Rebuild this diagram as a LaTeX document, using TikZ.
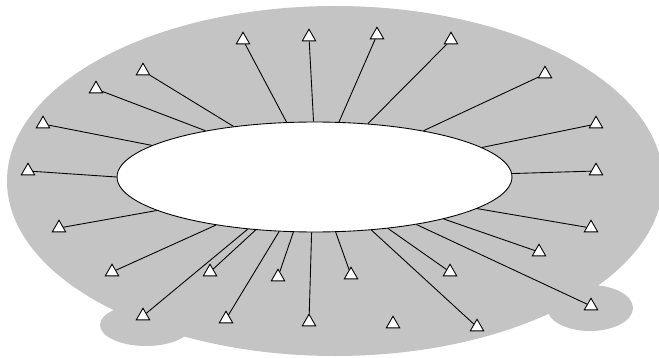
\documentclass[tikz,border=0pt]{standalone}
\usepackage{xcolor}
\usepackage{tikz}
\usetikzlibrary{shapes.geometric}
\definecolor{fieldgray}{RGB}{196, 196, 196}

\begin{document}
\begin{tikzpicture}[x=0.02cm, y=-0.02cm,
    sensor/.style={regular polygon, regular polygon sides=3, draw, fill=white,
        line width=0.5pt, minimum size=0.31cm, inner sep=0pt},
    link/.style={line width=0.5pt}]
\path[use as bounding box, clip] (0,0) rectangle (659,358);

% Grey field
\fill[fieldgray] (335,181) ellipse [x radius=328, y radius=175];
\fill[fieldgray] (146,325) ellipse [x radius=46, y radius=21];
\fill[fieldgray] (590,308) ellipse [x radius=43, y radius=23];

% Inner ring
\node[ellipse, draw, fill=white, line width=0.5pt, inner sep=0pt,
    minimum width=7.9cm, minimum height=2.2cm] (core) at (314.5,177) {};

% Sensors linked to the ring
\foreach \x/\y/\a [count=\i] in {
    243/40/117.4, 309/37/91.6, 143/71/148.3, 96/89/157.3, 43/124/169,
    28/171/180, 377/35/66, 451/40/45.8, 545/74/23.6, 596/124/10.5,
    596/171/1, 59/228/192, 112/272/206.2, 143/316/218.9, 210/272/222.2,
    226/319/237.4, 278/277/249.6, 309/322/267.4, 351/275/291.3,
    450/272/325.8, 477/327/317.3, 591/306/335.6, 539/252/342.4,
    591/228/349.3} {
    \node[sensor] (s\i) at (\x,\y) {};
    \draw[link] (core.\a) -- (s\i);
}

% Lone sensor
\node[sensor] (s25) at (393,324) {};
\end{tikzpicture}
\end{document}
